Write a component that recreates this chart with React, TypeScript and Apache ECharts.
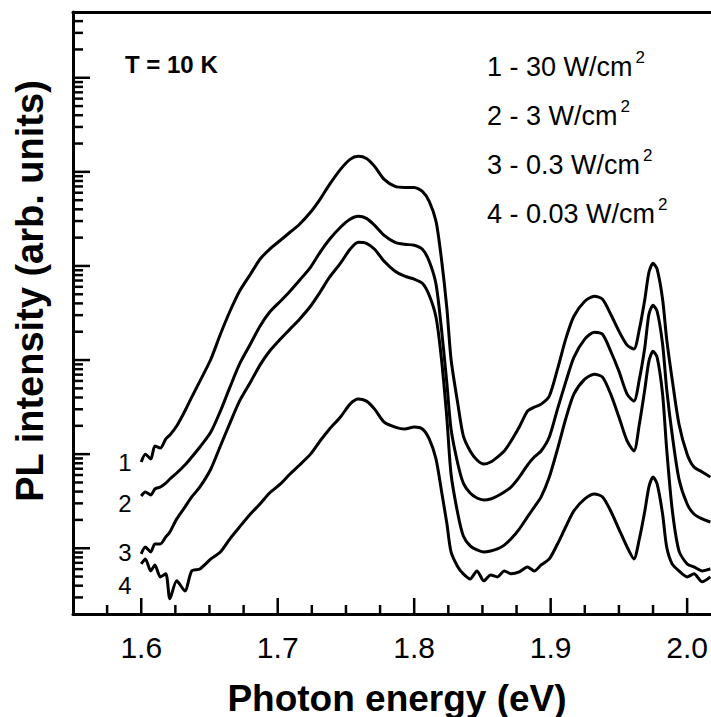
import React, { useEffect, useRef } from "react";
import * as echarts from "echarts";

// Photon energy grid (eV)
const energy = [
  1.6, 1.603, 1.607, 1.61, 1.614, 1.618, 1.621, 1.626, 1.632, 1.637,
  1.643, 1.651, 1.658, 1.665, 1.672, 1.68, 1.687, 1.694, 1.702, 1.709,
  1.716, 1.724, 1.731, 1.738, 1.746, 1.753, 1.759, 1.765, 1.771, 1.778,
  1.786, 1.793, 1.8, 1.806, 1.811, 1.816, 1.82, 1.824, 1.827, 1.832,
  1.836, 1.841, 1.846, 1.851, 1.856, 1.861, 1.866, 1.871, 1.877, 1.883,
  1.888, 1.893, 1.899, 1.905, 1.911, 1.917, 1.925, 1.932, 1.938, 1.944,
  1.95, 1.956, 1.961, 1.965, 1.969, 1.972, 1.975, 1.978, 1.982, 1.985,
  1.989, 1.994, 2.0, 2.005, 2.011, 2.017,
];

// 1 - 30 W/cm2
const curve1 = [
  8.25, 10.0, 8.87, 12.2, 11.6, 14.5, 16.0, 19.9, 28.7, 40.4,
  59.7, 102, 188, 330, 539, 817, 1178, 1504, 1875, 2280,
  2773, 3715, 5105, 7362, 10640, 13580, 14620, 13900, 11430, 8320,
  7015, 6840, 6840, 6210, 4860, 2980, 1178, 347, 102, 34.0,
  15.6, 10.8, 8.66, 7.85, 8.25, 9.31, 10.8, 13.8, 19.4, 28.7,
  31.6, 34.0, 41.4, 80.0, 167, 292, 422, 477, 443, 307,
  203, 144, 131, 213, 443, 857, 1069, 923, 443, 167,
  62.7, 20.9, 10.0, 7.3, 6.46, 5.71,
];

// 2 - 3 W/cm2
const curve2 = [
  3.59, 3.96, 3.68, 4.26, 4.48, 4.93, 5.44, 6.3, 7.66, 9.31,
  11.9, 17.2, 28.7, 51.5, 90.4, 148, 229, 322, 422, 539,
  705, 968, 1397, 1919, 2576, 3133, 3373, 3206, 2704, 2118,
  1786, 1698, 1660, 1504, 1122, 640, 213, 55.5, 18.5, 7.85,
  4.93, 3.86, 3.42, 3.26, 3.34, 3.59, 3.96, 4.48, 5.71, 7.66,
  9.31, 10.8, 15.2, 30.1, 58.2, 107, 167, 198, 188, 124,
  76.2, 43.4, 36.6, 62.7, 137, 307, 383, 330, 148, 49.1,
  16.3, 5.44, 2.95, 2.31, 2.05, 1.9,
];

// 3 - 0.3 W/cm2
const curve3 = [
  0.87, 1.03, 0.913, 1.11, 1.11, 1.32, 1.49, 2.05, 2.74, 3.51,
  4.48, 6.95, 12.2, 21.4, 36.6, 58.2, 88.3, 124, 167, 213,
  272, 373, 526, 759, 1069, 1504, 1786, 1742, 1504, 1122,
  879, 778, 723, 655, 489, 285, 102, 23.6, 6.15, 2.31,
  1.35, 1.06, 0.959, 0.913, 0.936, 0.983, 1.08, 1.26, 1.6, 2.15,
  2.74, 3.51, 5.71, 11.3, 23.6, 43.4, 62.7, 70.8, 65.8, 43.4,
  24.8, 13.8, 10.8, 20.9, 49.1, 97.3, 124, 107, 43.4, 11.3,
  2.61, 0.936, 0.681, 0.633, 0.574, 0.603,
];

// 4 - 0.03 W/cm2
const curve4 = [
  0.681, 0.77, 0.574, 0.665, 0.496, 0.534, 0.29, 0.45, 0.352, 0.574,
  0.603, 0.77, 0.913, 1.26, 1.68, 2.31, 2.95, 3.86, 4.82, 6.15,
  7.66, 10.0, 13.8, 18.5, 24.8, 34.0, 38.5, 36.6, 30.1, 21.9,
  19.4, 18.5, 19.4, 18.5, 14.5, 8.87, 4.06, 1.81, 0.913, 0.633,
  0.534, 0.472, 0.574, 0.45, 0.521, 0.496, 0.574, 0.534, 0.56, 0.633,
  0.574, 0.665, 0.77, 1.11, 1.68, 2.49, 3.34, 3.77, 3.51, 2.49,
  1.6, 1.03, 0.77, 1.26, 2.49, 4.48, 5.71, 4.82, 2.31, 1.03,
  0.681, 0.574, 0.496, 0.534, 0.439, 0.496,
];

const curves = [curve1, curve2, curve3, curve4];
const curveLabels = ["1", "2", "3", "4"];
const legendTexts = ["1 - 30 W/cm", "2 - 3 W/cm", "3 - 0.3 W/cm", "4 - 0.03 W/cm"];

const xMajorTicks = [1.6, 1.7, 1.8, 1.9, 2.0];
const xMinorTicks = [1.575, 1.625, 1.65, 1.675, 1.725, 1.75, 1.775, 1.825, 1.85, 1.875, 1.925, 1.95, 1.975];
const yDecades = [0.1, 1, 10, 100, 1000, 10000, 100000];
const yMajorTicks = [1, 10, 100, 1000, 10000, 100000];
const yMinorMultipliers = [2, 3, 4, 5, 6, 7, 8, 9];

const X_MIN = 1.55;
const X_MAX = 2.017;
const Y_MIN = 0.2;
const Y_MAX = 500000;

const FONT = "'Liberation Sans', Arial, Helvetica, sans-serif";

export default function App() {
  const ref = useRef<HTMLDivElement>(null);

  useEffect(() => {
    document.body.style.margin = "0";
    if (!ref.current) return;
    const chart = echarts.init(ref.current, undefined, { renderer: "svg" });

    const yMinor: number[] = [];
    yDecades.forEach((d) =>
      yMinorMultipliers.forEach((m) => {
        const v = d * m;
        if (v > Y_MIN * 1.001 && v < Y_MAX * 0.999) yMinor.push(v);
      })
    );

    const xTickData = [
      ...xMajorTicks.map((v) => [v, Y_MIN, 16]),
      ...xMinorTicks.map((v) => [v, Y_MIN, 9]),
    ];
    const yTickData = [
      ...yMajorTicks.map((v) => [X_MIN, v, 17]),
      ...yMinor.map((v) => [X_MIN, v, 10]),
    ];

    const lineSeries = curves.map((c, i) => ({
      type: "line",
      name: curveLabels[i],
      data: energy.map((e, j) => [e, c[j]]),
      showSymbol: false,
      smooth: 0.25,
      lineStyle: { color: "#000", width: 3 },
      z: 3,
    }));

    const legendGraphics = legendTexts.map((t, i) => ({
      type: "text",
      left: 487,
      top: 49 + i * 49,
      style: {
        text: t + "{sup|2}",
        font: `27px ${FONT}`,
        fill: "#000",
        rich: {
          sup: { fontSize: 17, fontFamily: FONT, fill: "#000", padding: [0, 0, 18, 3] },
        },
      },
    }));

    const labelY = [462, 503, 552, 585];
    const curveLabelGraphics = curveLabels.map((t, i) => ({
      type: "text",
      x: 125,
      y: labelY[i],
      style: {
        text: t,
        font: `24px ${FONT}`,
        fill: "#000",
        textAlign: "center",
        textVerticalAlign: "middle",
      },
    }));

    chart.setOption({
      animation: false,
      backgroundColor: "#fff",
      grid: { left: 73, top: 12, right: 0, bottom: 103, containLabel: false },
      xAxis: [
        {
          type: "value",
          min: X_MIN,
          max: X_MAX,
          interval: 0.05,
          axisLine: { show: true, lineStyle: { color: "#000", width: 3 } },
          axisTick: { show: false },
          splitLine: { show: false },
          axisLabel: {
            show: true,
            color: "#000",
            fontSize: 30,
            fontFamily: FONT,
            margin: 18,
            showMaxLabel: false,
            formatter: (v: number) =>
              Math.abs(v * 10 - Math.round(v * 10)) < 1e-6 ? v.toFixed(1) : "",
          },
        },
        {
          type: "value",
          position: "top",
          min: X_MIN,
          max: X_MAX,
          axisLine: { show: true, lineStyle: { color: "#000", width: 3 } },
          axisTick: { show: false },
          axisLabel: { show: false },
          splitLine: { show: false },
        },
      ],
      yAxis: {
        type: "log",
        logBase: 10,
        min: Y_MIN,
        max: Y_MAX,
        axisLine: { show: true, lineStyle: { color: "#000", width: 3 } },
        axisTick: { show: false },
        axisLabel: { show: false },
        splitLine: { show: false },
        minorTick: { show: false },
      },
      series: [
        ...lineSeries,
        {
          type: "custom",
          name: "xticks",
          data: xTickData,
          encode: { x: 0, y: 1 },
          renderItem: (_p: any, api: any) => {
            const pt = api.coord([api.value(0), api.value(1)]);
            const len = api.value(2);
            return {
              type: "line",
              shape: { x1: pt[0], y1: pt[1], x2: pt[0], y2: pt[1] - len },
              style: { stroke: "#000", lineWidth: 2.5 },
            };
          },
          z: 5,
        },
        {
          type: "custom",
          name: "yticks",
          data: yTickData,
          encode: { x: 0, y: 1 },
          renderItem: (_p: any, api: any) => {
            const pt = api.coord([api.value(0), api.value(1)]);
            const len = api.value(2);
            return {
              type: "line",
              shape: { x1: pt[0], y1: pt[1], x2: pt[0] + len, y2: pt[1] },
              style: { stroke: "#000", lineWidth: 2.5 },
            };
          },
          z: 5,
        },
      ],
      graphic: [
        {
          type: "text",
          left: 125,
          top: 52,
          style: { text: "T = 10 K", font: `bold 24px ${FONT}`, fill: "#000" },
        },
        ...legendGraphics,
        ...curveLabelGraphics,
        {
          type: "text",
          x: 397,
          y: 698,
          style: {
            text: "Photon energy (eV)",
            font: `bold 37px ${FONT}`,
            fill: "#000",
            textAlign: "center",
            textVerticalAlign: "middle",
          },
        },
        {
          type: "text",
          x: 30,
          y: 291,
          rotation: Math.PI / 2,
          style: {
            text: "PL intensity (arb. units)",
            font: `bold 38px ${FONT}`,
            fill: "#000",
            textAlign: "center",
            textVerticalAlign: "middle",
          },
        },
      ],
    });

    return () => chart.dispose();
  }, []);

  return <div ref={ref} style={{ width: 711, height: 717 }} />;
}
